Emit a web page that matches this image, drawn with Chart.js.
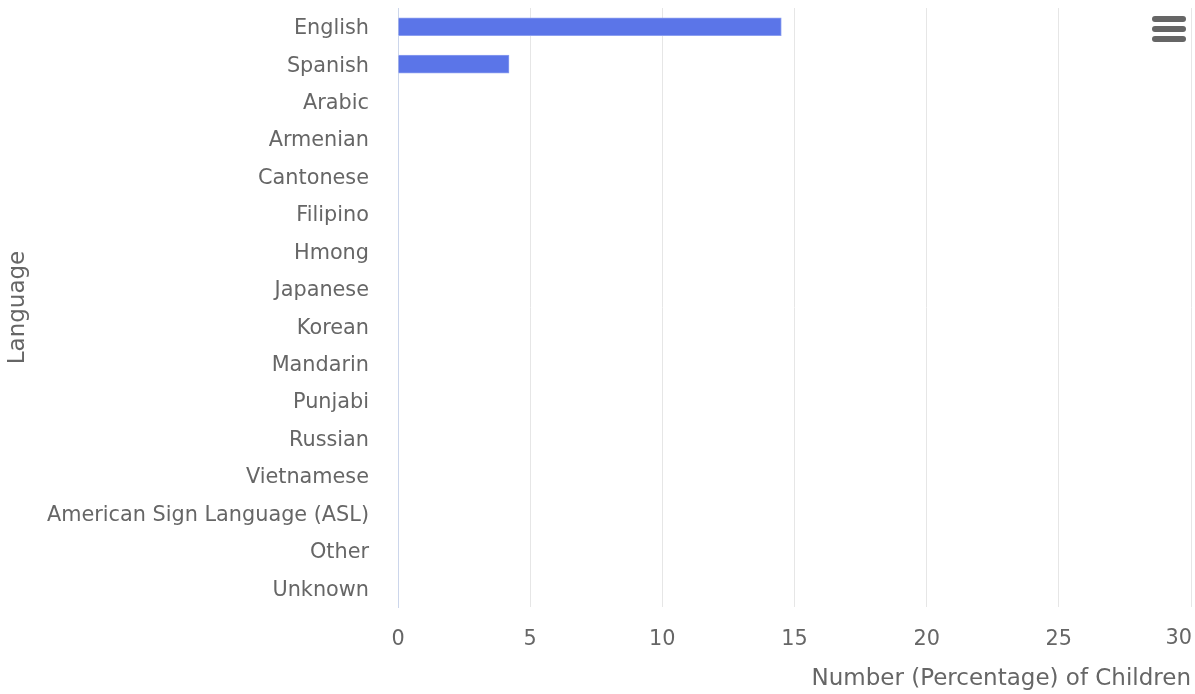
<!DOCTYPE html>
<html>
<head>
<meta charset="utf-8">
<script src="https://cdn.jsdelivr.net/npm/chart.js@4/dist/chart.umd.min.js"></script>
<style>
html,body{margin:0;padding:0;background:#fff;}
#wrap{position:relative;width:1195px;height:694px;}
#menu{position:absolute;left:1152px;top:16px;width:34px;height:26px;}
#menu span{position:absolute;left:0;width:34px;height:6px;border-radius:3px;background:#666;}
</style>
</head>
<body>
<div id="wrap">
<canvas id="c" width="1195" height="694"></canvas>
<div id="menu"><span style="top:0"></span><span style="top:10px"></span><span style="top:20px"></span></div>
</div>
<script>
const categories = ["English","Spanish","Arabic","Armenian","Cantonese","Filipino","Hmong","Japanese","Korean","Mandarin","Punjabi","Russian","Vietnamese","American Sign Language (ASL)","Other","Unknown"];
const values = [14.5,4.2,0,0,0,0,0,0,0,0,0,0,0,0,0,0];
const xTicks = [0,5,10,15,20,25,30];
const xTitle = "Number (Percentage) of Children";
const yTitle = "Language";

const FONT = "DejaVu Sans";
const FS = 20.8;
const TFS = 23;
const TXT = "#666666";

// Keep last x tick label inside the plot (drawn right-aligned at the axis end)
const lastLabelPlugin = {
  id: 'lastLabel',
  afterDraw(chart) {
    const sx = chart.scales.x;
    const ctx = chart.ctx;
    const last = xTicks[xTicks.length - 1];
    ctx.save();
    ctx.font = FS + 'px "' + FONT + '"';
    ctx.fillStyle = TXT;
    ctx.textAlign = 'right';
    ctx.textBaseline = 'middle';
    ctx.fillText(String(last), sx.getPixelForValue(last) + 1, 639);
    ctx.restore();
  }
};

new Chart(document.getElementById('c'), {
  type: 'bar',
  data: {
    labels: categories,
    datasets: [{
      data: values,
      backgroundColor: '#5b75e8',
      borderColor: '#8c9ff0',
      borderWidth: 1,
      barThickness: 18
    }]
  },
  options: {
    indexAxis: 'y',
    responsive: false,
    animation: false,
    layout: {padding: {top: 8, right: 4, left: 0, bottom: 0}},
    plugins: {legend: {display: false}, tooltip: {enabled: false}},
    scales: {
      x: {
        min: 0, max: 30,
        afterBuildTicks: s => { s.ticks = xTicks.map(v => ({value: v})); },
        afterFit: s => { s.height = 87; s.paddingRight = 0; s.paddingLeft = 0; },
        grid: {color: '#e6e6e6', lineWidth: 1, drawTicks: false},
        border: {display: false},
        ticks: {
          color: ctx => (ctx.tick && ctx.tick.value === xTicks[xTicks.length - 1]) ? 'rgba(0,0,0,0)' : TXT,
          font: {family: FONT, size: FS}, padding: 20, maxRotation: 0
        },
        title: {display: true, text: xTitle, align: 'end', color: TXT, font: {family: FONT, size: TFS}, padding: {top: 0, bottom: 1}}
      },
      y: {
        afterFit: s => { s.width = 398; s.paddingTop = 0; s.paddingBottom = 0; },
        grid: {display: false, drawTicks: false},
        border: {display: true, color: '#ccd6eb', width: 1},
        ticks: {color: TXT, font: {family: FONT, size: FS}, padding: 29, autoSkip: false, labelOffset: 2},
        title: {display: true, text: yTitle, color: TXT, font: {family: FONT, size: TFS}, padding: {top: 4, bottom: 0}}
      }
    }
  },
  plugins: [lastLabelPlugin]
});
</script>
</body>
</html>
